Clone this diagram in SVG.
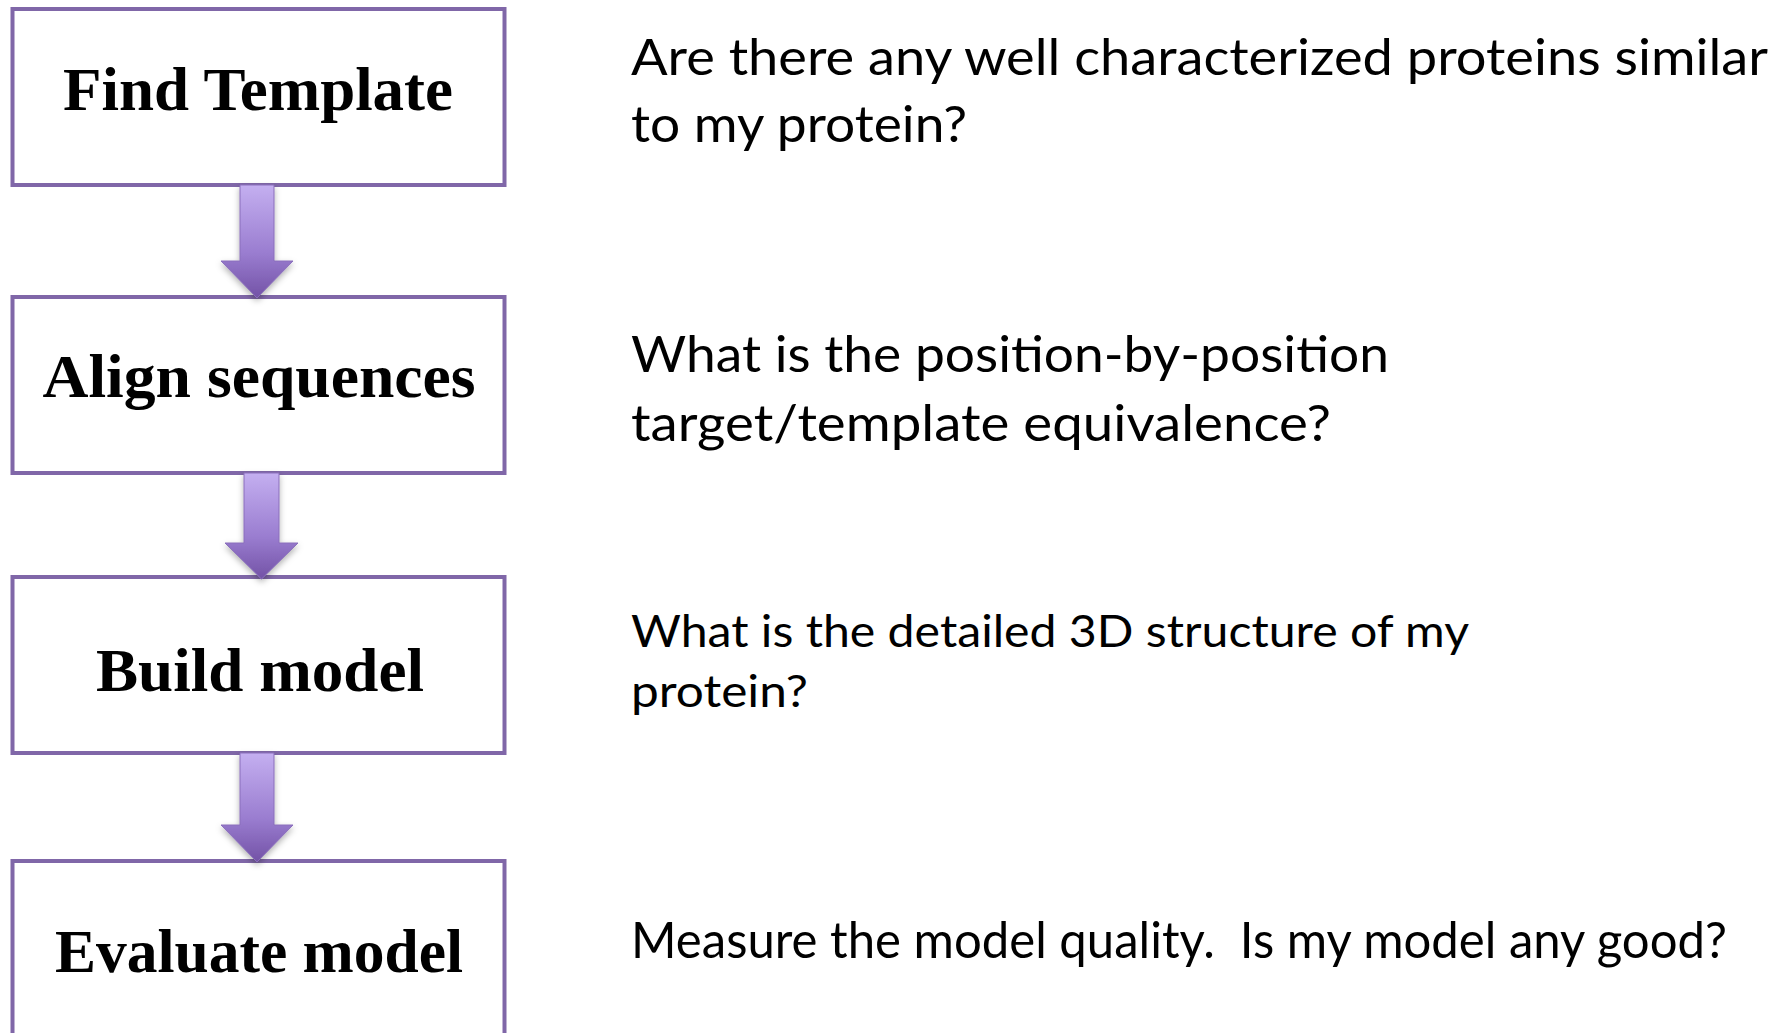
<svg xmlns="http://www.w3.org/2000/svg" width="1792" height="1033" viewBox="0 0 1792 1033">
  <style>
    .box { fill: #ffffff; stroke: #8067a8; stroke-width: 4; }
    .lbl { font-family: "Liberation Serif", "DejaVu Serif", serif; font-weight: bold; font-size: 61px; fill: #000000; text-anchor: middle; }
    .q { font-family: Lato, "Open Sans", "Liberation Sans", sans-serif; font-size: 50px; fill: #000000; }
    .q3 { font-family: Lato, "Open Sans", "Liberation Sans", sans-serif; font-size: 44px; fill: #000000; }
    .arrow { fill: url(#arrowGrad); stroke: #8a6fbb; stroke-width: 1; filter: url(#shadow); }
  </style>
  <defs>
    <linearGradient id="arrowGrad" x1="0" y1="0" x2="0" y2="1">
      <stop offset="0" stop-color="#c4aff0"/>
      <stop offset="0.6" stop-color="#9a7dd0"/>
      <stop offset="1" stop-color="#7352a6"/>
    </linearGradient>
    <filter id="shadow" x="-30%" y="-20%" width="160%" height="150%">
      <feDropShadow dx="0" dy="3" stdDeviation="3" flood-color="#000000" flood-opacity="0.3"/>
    </filter>
  </defs>

  <rect width="1792" height="1033" fill="#ffffff"/>

  <g id="node-find-template">
    <rect class="box" x="12.5" y="9" width="492" height="176"/>
    <text class="lbl" x="258" y="110" textLength="390" lengthAdjust="spacingAndGlyphs">Find Template</text>
  </g>
  <g id="node-align-sequences">
    <rect class="box" x="12.5" y="297" width="492" height="176"/>
    <text class="lbl" x="259" y="397" textLength="433" lengthAdjust="spacingAndGlyphs">Align sequences</text>
  </g>
  <g id="node-build-model">
    <rect class="box" x="12.5" y="577" width="492" height="176"/>
    <text class="lbl" x="260" y="691" textLength="328" lengthAdjust="spacingAndGlyphs">Build model</text>
  </g>
  <g id="node-evaluate-model">
    <rect class="box" x="12.5" y="861" width="492" height="200"/>
    <text class="lbl" x="259" y="972" textLength="408" lengthAdjust="spacingAndGlyphs">Evaluate model</text>
  </g>

  <g id="connectors">
    <path class="arrow" d="M240,185 L274,185 L274,261 L293,261 L257,298 L221,261 L240,261 Z"/>
    <path class="arrow" d="M244,473 L279,473 L279,543 L298,543 L261.5,579 L225,543 L244,543 Z"/>
    <path class="arrow" d="M240,753 L274,753 L274,825 L293,825 L257,862 L221,825 L240,825 Z"/>
  </g>

  <g id="questions">
    <text class="q" x="631" y="75" textLength="1137" lengthAdjust="spacingAndGlyphs">Are there any well characterized proteins similar</text>
    <text class="q" x="631" y="142" textLength="336" lengthAdjust="spacingAndGlyphs">to my protein?</text>
    <text class="q" x="631" y="372" textLength="758" lengthAdjust="spacingAndGlyphs">What is the position-by-position</text>
    <text class="q" x="631" y="441" textLength="700" lengthAdjust="spacingAndGlyphs">target/template equivalence?</text>
    <text class="q3" x="631" y="647" textLength="838" lengthAdjust="spacingAndGlyphs">What is the detailed 3D structure of my</text>
    <text class="q3" x="631" y="707" textLength="177" lengthAdjust="spacingAndGlyphs">protein?</text>
    <text class="q" x="631" y="958" textLength="1096" lengthAdjust="spacingAndGlyphs" xml:space="preserve">Measure the model quality.  Is my model any good?</text>
  </g>
</svg>
